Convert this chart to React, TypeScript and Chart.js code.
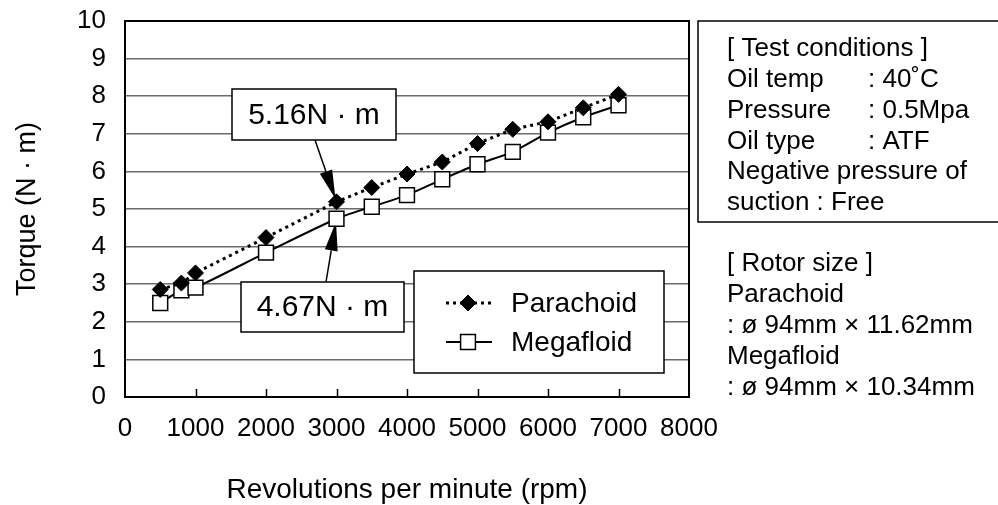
import React, { useEffect, useRef } from 'react';
import { Chart, registerables } from 'chart.js';

Chart.register(...registerables);

// ---------- data ----------
const rpm = [500, 800, 1000, 2000, 3000, 3500, 4000, 4500, 5000, 5500, 6000, 6500, 7000];
const parachoid = [2.86, 3.03, 3.3, 4.24, 5.19, 5.57, 5.93, 6.25, 6.74, 7.12, 7.32, 7.69, 8.05];
const megafloid = [2.5, 2.84, 2.91, 3.84, 4.74, 5.06, 5.37, 5.79, 6.19, 6.52, 7.03, 7.44, 7.76];
const seriesNames = ['Parachoid', 'Megafloid'];
const xTickValues = [0, 1000, 2000, 3000, 4000, 5000, 6000, 7000, 8000];
const yTickValues = [0, 1, 2, 3, 4, 5, 6, 7, 8, 9, 10];
const xTitle = 'Revolutions per minute (rpm)';
const yTitle = 'Torque (N · m)';
const calloutLabels = ['5.16N · m', '4.67N · m'];
const calloutSeries = [0, 1];
const calloutRpm = [3000, 3000];
const conditionTitle = '[ Test conditions ]';
const conditionNames = ['Oil temp', 'Pressure', 'Oil type'];
const conditionValues = [': 40˚C', ': 0.5Mpa', ': ATF'];
const conditionNote = ['Negative pressure of', 'suction : Free'];
const rotorLines = ['[ Rotor size ]', 'Parachoid', ': ø 94mm × 11.62mm', 'Megafloid', ': ø 94mm × 10.34mm'];

// ---------- layout / style ----------
const W = 998;
const H = 505;
const FONT = '"Liberation Sans", Arial, Helvetica, sans-serif';
const PLOT = { left: 125, top: 21, right: 689, bottom: 397 };
// callout boxes relative to chart area (left/top)
const CALLOUT_BOX = [
  { dx: 107, dy: 68, w: 164, h: 51, baseDx: 83, fromBottom: true },
  { dx: 116, dy: 261, w: 163, h: 50, baseDx: 85, fromBottom: false },
];
const LEGEND_BOX = { dx: 289, dy: 250, w: 250, h: 102 };

const decorPlugin = {
  id: 'decor',
  beforeDatasetsDraw(chart: any) {
    const { ctx, chartArea: ca, scales } = chart;
    const xs = scales.x;
    const ys = scales.y;
    ctx.save();

    // frame
    ctx.strokeStyle = '#000';
    ctx.lineWidth = 2;
    ctx.strokeRect(ca.left, ca.top, ca.right - ca.left, ca.bottom - ca.top);

    // inward tick marks on x axis
    ctx.lineWidth = 1.5;
    xs.ticks.forEach((t: any) => {
      if (t.value <= xs.min || t.value >= xs.max) return;
      const px = Math.round(xs.getPixelForValue(t.value)) + 0.5;
      ctx.beginPath();
      ctx.moveTo(px, ca.bottom);
      ctx.lineTo(px, ca.bottom - 8);
      ctx.stroke();
    });

    // callouts
    calloutLabels.forEach((label, i) => {
      const b = CALLOUT_BOX[i];
      const bx = ca.left + b.dx;
      const by = ca.top + b.dy;
      ctx.fillStyle = '#fff';
      ctx.fillRect(bx, by, b.w, b.h);
      ctx.strokeStyle = '#000';
      ctx.lineWidth = 1.5;
      ctx.strokeRect(bx, by, b.w, b.h);
      ctx.fillStyle = '#000';
      ctx.font = `30px ${FONT}`;
      ctx.textAlign = 'center';
      ctx.textBaseline = 'middle';
      ctx.fillText(label, bx + b.w / 2, by + b.h / 2 + 1);

      const sx = bx + b.baseDx;
      const sy = b.fromBottom ? by + b.h : by;
      const dsIdx = calloutSeries[i];
      const val = chart.data.datasets[dsIdx].data[rpm.indexOf(calloutRpm[i])].y;
      const tx = xs.getPixelForValue(calloutRpm[i]);
      const ty0 = ys.getPixelForValue(val);
      const ang = Math.atan2(ty0 - sy, tx - sx);
      const tipX = tx - Math.cos(ang) * 3;
      const tipY = ty0 - Math.sin(ang) * 3;
      const headLen = 29;
      const headHalf = 6.5;
      const hbX = tipX - Math.cos(ang) * headLen;
      const hbY = tipY - Math.sin(ang) * headLen;
      ctx.beginPath();
      ctx.moveTo(sx, sy);
      ctx.lineTo(hbX, hbY);
      ctx.lineWidth = 1.5;
      ctx.stroke();
      ctx.beginPath();
      ctx.moveTo(tipX, tipY);
      ctx.lineTo(hbX + Math.sin(ang) * headHalf, hbY - Math.cos(ang) * headHalf);
      ctx.lineTo(hbX - Math.sin(ang) * headHalf, hbY + Math.cos(ang) * headHalf);
      ctx.closePath();
      ctx.fill();
    });

    // legend
    const lx = ca.left + LEGEND_BOX.dx;
    const ly = ca.top + LEGEND_BOX.dy;
    ctx.fillStyle = '#fff';
    ctx.fillRect(lx, ly, LEGEND_BOX.w, LEGEND_BOX.h);
    ctx.strokeStyle = '#000';
    ctx.lineWidth = 1.5;
    ctx.strokeRect(lx, ly, LEGEND_BOX.w, LEGEND_BOX.h);
    chart.data.datasets.forEach((ds: any, i: number) => {
      const cy = ly + 32 + i * 39;
      const x0 = lx + 32;
      const x1 = lx + 78;
      const cx = (x0 + x1) / 2 - 1;
      ctx.save();
      ctx.strokeStyle = ds.borderColor;
      ctx.lineWidth = ds.borderWidth;
      ctx.setLineDash(ds.borderDash || []);
      ctx.beginPath();
      ctx.moveTo(x0, cy);
      ctx.lineTo(x1, cy);
      ctx.stroke();
      ctx.restore();
      ctx.beginPath();
      if (ds.pointStyle === 'rectRot') {
        const r = ds.pointRadius;
        ctx.moveTo(cx - r, cy);
        ctx.lineTo(cx, cy - r);
        ctx.lineTo(cx + r, cy);
        ctx.lineTo(cx, cy + r);
        ctx.closePath();
      } else {
        const s = Math.SQRT1_2 * ds.pointRadius;
        ctx.rect(cx - s, cy - s, 2 * s, 2 * s);
      }
      ctx.fillStyle = ds.pointBackgroundColor;
      ctx.fill();
      ctx.strokeStyle = ds.pointBorderColor;
      ctx.lineWidth = ds.pointBorderWidth;
      ctx.stroke();
      ctx.fillStyle = '#000';
      ctx.font = `28px ${FONT}`;
      ctx.textAlign = 'left';
      ctx.textBaseline = 'middle';
      ctx.fillText(ds.label, lx + 97, cy + 1);
    });

    ctx.restore();
  },
  afterDraw(chart: any) {
    const { ctx, chartArea: ca } = chart;
    ctx.save();
    // right-hand information panel
    const px = ca.right + 9;
    ctx.strokeStyle = '#000';
    ctx.lineWidth = 1.5;
    ctx.strokeRect(px, ca.top, W + 10 - px, 201);
    ctx.fillStyle = '#000';
    ctx.font = `26px ${FONT}`;
    ctx.textAlign = 'left';
    ctx.textBaseline = 'middle';
    const tx = px + 29;
    const col2 = px + 170;
    const step = 30.8;
    let y = ca.top + 28;
    ctx.fillText(conditionTitle, tx, y);
    conditionNames.forEach((n, i) => {
      y += step;
      ctx.fillText(n, tx, y);
      ctx.fillText(conditionValues[i], col2, y);
    });
    conditionNote.forEach((n) => {
      y += step;
      ctx.fillText(n, tx, y);
    });
    let y2 = ca.top + 243;
    rotorLines.forEach((n) => {
      ctx.fillText(n, tx, y2);
      y2 += 31;
    });
    ctx.restore();
  },
};

const zeroPadding = (s: any) => {
  s.paddingTop = 0;
  s.paddingBottom = 0;
  s.paddingLeft = 0;
  s.paddingRight = 0;
};

export default function App() {
  const ref = useRef<HTMLCanvasElement | null>(null);
  useEffect(() => {
    if (!ref.current) return;
    const chart = new Chart(ref.current, {
      type: 'line',
      data: {
        datasets: [
          {
            label: seriesNames[0],
            data: rpm.map((r, i) => ({ x: r, y: parachoid[i] })),
            borderColor: '#000',
            borderWidth: 3,
            borderDash: [3, 4],
            pointStyle: 'rectRot',
            pointRadius: 8,
            pointBackgroundColor: '#000',
            pointBorderColor: '#000',
            pointBorderWidth: 1,
            tension: 0,
            fill: false,
          },
          {
            label: seriesNames[1],
            data: rpm.map((r, i) => ({ x: r, y: megafloid[i] })),
            borderColor: '#000',
            borderWidth: 2,
            pointStyle: 'rect',
            pointRadius: 10.5,
            pointBackgroundColor: '#fff',
            pointBorderColor: '#000',
            pointBorderWidth: 1.5,
            tension: 0.25,
            fill: false,
          },
        ] as any,
      },
      options: {
        responsive: false,
        animation: false,
        devicePixelRatio: 1,
        layout: { padding: { left: 0, top: PLOT.top, right: W - PLOT.right, bottom: 0 } },
        plugins: { legend: { display: false }, tooltip: { enabled: false } },
        scales: {
          x: {
            type: 'linear',
            min: 0,
            max: 8000,
            afterBuildTicks: (s: any) => {
              s.ticks = xTickValues.map((v) => ({ value: v }));
            },
            afterFit: (s: any) => {
              s.height = H - PLOT.bottom;
              zeroPadding(s);
            },
            ticks: {
              color: '#000',
              font: { family: FONT, size: 26 },
              padding: 16,
              maxRotation: 0,
              autoSkip: false,
              callback: (v: any) => String(v),
            },
            grid: { display: false, drawTicks: false },
            border: { display: false },
            title: {
              display: true,
              text: xTitle,
              color: '#000',
              font: { family: FONT, size: 28, lineHeight: 1 },
              padding: { top: 0, bottom: 1 },
            },
          },
          y: {
            type: 'linear',
            min: 0,
            max: 10,
            afterBuildTicks: (s: any) => {
              s.ticks = yTickValues.map((v) => ({ value: v }));
            },
            afterFit: (s: any) => {
              s.width = PLOT.left;
              zeroPadding(s);
            },
            ticks: {
              color: '#000',
              font: { family: FONT, size: 26 },
              padding: 19,
              callback: (v: any) => String(v),
            },
            grid: { color: '#6b6b6b', lineWidth: 1.5, drawTicks: false },
            border: { display: false },
            title: {
              display: true,
              text: yTitle,
              color: '#000',
              font: { family: FONT, size: 27, lineHeight: 1 },
              padding: { top: 14, bottom: 0 },
            },
          },
        },
      } as any,
      plugins: [decorPlugin],
    });
    return () => chart.destroy();
  }, []);

  return (
    <div style={{ position: 'absolute', left: 0, top: 0, width: W, height: H, background: '#fff' }}>
      <canvas ref={ref} width={W} height={H} style={{ display: 'block', width: W, height: H }} />
    </div>
  );
}
